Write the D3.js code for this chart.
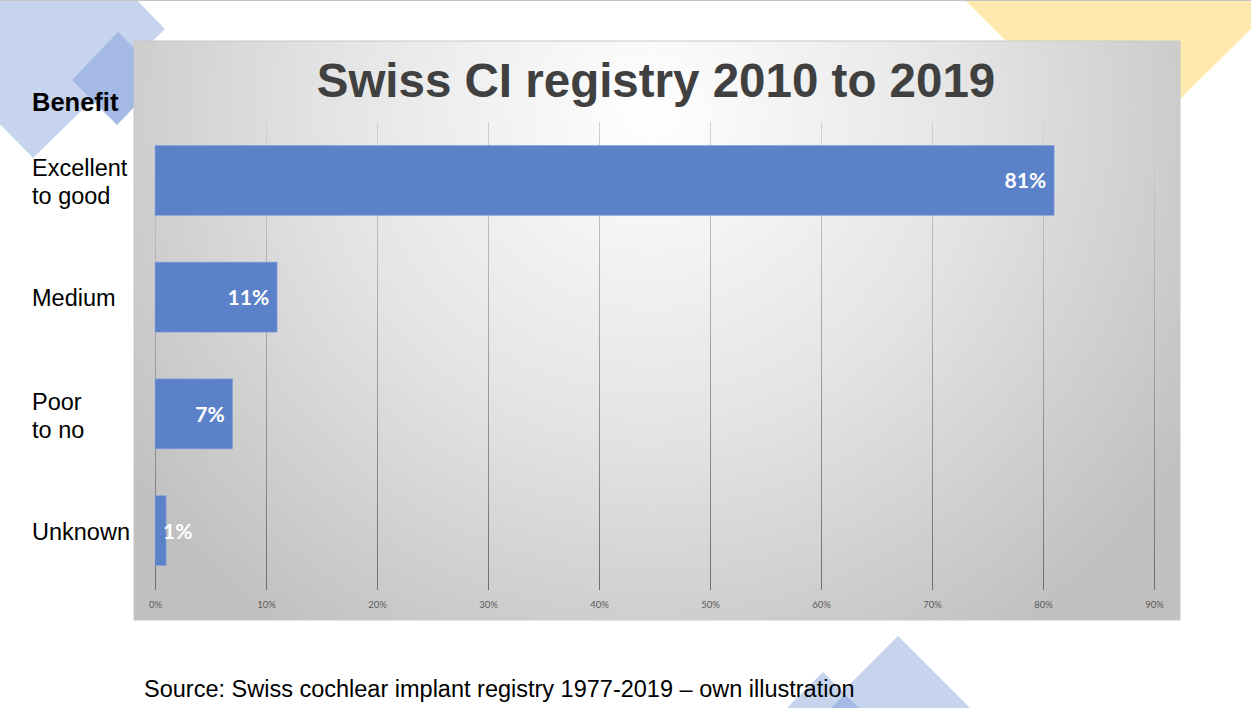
<!DOCTYPE html>
<html>
<head>
<meta charset="utf-8">
<script src="https://d3js.org/d3.v7.min.js"></script>
<style>
	body { margin: 0; background: #fff; }
	svg { display: block; }
</style>
</head>
<body>
<div id="chart-area"></div>
<script>
// data
var categories = ["Excellent to good", "Medium", "Poor to no", "Unknown"];
var values = [81, 11, 7, 1];
var tickValues = [0, 10, 20, 30, 40, 50, 60, 70, 80, 90];

var W = 1251, H = 708;
var box = {x: 134, y: 41, w: 1046, h: 579};

var svg = d3.select("#chart-area").append("svg")
	.attr("width", W)
	.attr("height", H);

var defs = svg.append("defs");

var bg = defs.append("radialGradient")
	.attr("id", "bg")
	.attr("gradientUnits", "userSpaceOnUse")
	.attr("cx", 650).attr("cy", 110).attr("r", 640);
bg.append("stop").attr("offset", "0%").attr("stop-color", "#ffffff");
bg.append("stop").attr("offset", "50%").attr("stop-color", "#e4e4e4");
bg.append("stop").attr("offset", "100%").attr("stop-color", "#c0c0c0");

var gridGrad = defs.append("linearGradient")
	.attr("id", "gridGrad")
	.attr("gradientUnits", "userSpaceOnUse")
	.attr("x1", 0).attr("y1", 122).attr("x2", 0).attr("y2", 590);
gridGrad.append("stop").attr("offset", "0%").attr("stop-color", "#d2d2d2");
gridGrad.append("stop").attr("offset", "100%").attr("stop-color", "#6e6e6e");

// decorative shapes behind the chart box
var deco = svg.append("g").attr("class", "deco");
deco.append("polygon")
	.attr("points", "36,-103 165,29 33,158 -96,26")
	.attr("fill", "#c6d4ee");
deco.append("polygon")
	.attr("points", "118,32 163,77 117,125 72,80")
	.attr("fill", "#a4b9e4");
deco.append("polygon")
	.attr("points", "965,0 1280,0 1122,157")
	.attr("fill", "#feeaae");
deco.append("polygon")
	.attr("points", "898,636 970,708 826,708")
	.attr("fill", "#c6d4ee");
deco.append("polygon")
	.attr("points", "823,672 859,708 787,708")
	.attr("fill", "#c6d4ee");
deco.append("polygon")
	.attr("points", "845,694 859,708 831,708")
	.attr("fill", "#a4b9e4");

// top hairline of the slide
svg.append("line")
	.attr("x1", 0).attr("x2", W)
	.attr("y1", 0.5).attr("y2", 0.5)
	.attr("stroke", "#c4c4c4");

// chart box
svg.append("rect")
	.attr("x", box.x).attr("y", box.y)
	.attr("width", box.w).attr("height", box.h)
	.attr("fill", "url(#bg)")
	.attr("stroke", "#c8c8c8")
	.attr("stroke-width", 1);

var x = d3.scaleLinear()
	.domain([0, 90])
	.range([155, 1154]);

var y = d3.scaleBand()
	.domain(categories)
	.range([122, 589])
	.paddingInner(0.4)
	.paddingOuter(0.2);

// gridlines
svg.append("g")
	.selectAll("line")
	.data(tickValues)
	.enter()
	.append("line")
		.attr("x1", (d) => x(d) + 0.5)
		.attr("x2", (d) => x(d) + 0.5)
		.attr("y1", 122)
		.attr("y2", 590)
		.attr("stroke", "url(#gridGrad)")
		.attr("stroke-width", 1);

// bottom axis, labels only
var bottomAxis = d3.axisBottom(x)
	.tickValues(tickValues)
	.tickSize(0)
	.tickFormat((d) => d + "%");

svg.append("g")
	.attr("class", "bottom axis")
	.attr("transform", "translate(0, 598)")
	.call(bottomAxis)
	.call((g) => g.select(".domain").remove())
	.selectAll("text")
		.attr("font-family", "Lato, 'Open Sans', sans-serif")
		.attr("font-size", "9.5px")
		.attr("fill", "#595959");

// bars
svg.append("g")
	.selectAll("rect")
	.data(values)
	.enter()
	.append("rect")
		.attr("x", x(0))
		.attr("y", (d, i) => y(categories[i]))
		.attr("width", (d) => x(d) - x(0))
		.attr("height", y.bandwidth())
		.attr("fill", "#5b82c9")
		.attr("stroke", "#8fa9dc")
		.attr("stroke-width", 0.6);

// value labels, inside end
svg.append("g")
	.selectAll("text")
	.data(values)
	.enter()
	.append("text")
		.attr("x", (d) => (x(d) - x(0) > 45) ? x(d) - 8 : x(0) + 8)
		.attr("y", (d, i) => y(categories[i]) + y.bandwidth() / 2 + 8)
		.attr("text-anchor", (d) => (x(d) - x(0) > 45) ? "end" : "start")
		.attr("font-family", "Lato, 'Open Sans', sans-serif")
		.attr("font-weight", "bold")
		.attr("font-size", "21px")
		.attr("fill", "#ffffff")
		.text((d) => d + "%");

// category labels on the left
var cats = svg.append("g")
	.attr("font-family", "'Liberation Sans', Arial, sans-serif")
	.attr("font-size", "23.5px")
	.attr("fill", "#000");

categories.forEach((c, i) => {
	var parts = c.split(" to ");
	var mid = y(c) + y.bandwidth() / 2;
	if (parts.length > 1) {
		cats.append("text").attr("x", 32).attr("y", mid - 4).text(parts[0]);
		cats.append("text").attr("x", 32).attr("y", mid + 24).text("to " + parts[1]);
	} else {
		cats.append("text").attr("x", 32).attr("y", mid + 9).text(c);
	}
});

cats.append("text")
	.attr("x", 32)
	.attr("y", 111)
	.attr("font-weight", "bold")
	.attr("font-size", "25.5px")
	.text("Benefit");

// title
svg.append("text")
	.attr("x", 656)
	.attr("y", 97)
	.attr("text-anchor", "middle")
	.attr("font-family", "'Liberation Sans', Arial, sans-serif")
	.attr("font-weight", "bold")
	.attr("font-size", "47.5px")
	.attr("fill", "#404040")
	.text("Swiss CI registry 2010 to 2019");

// source line
svg.append("text")
	.attr("x", 144)
	.attr("y", 697)
	.attr("font-family", "'Liberation Sans', Arial, sans-serif")
	.attr("font-size", "23.5px")
	.attr("fill", "#000")
	.text("Source: Swiss cochlear implant registry 1977-2019 \u2013 own illustration");
</script>
</body>
</html>
